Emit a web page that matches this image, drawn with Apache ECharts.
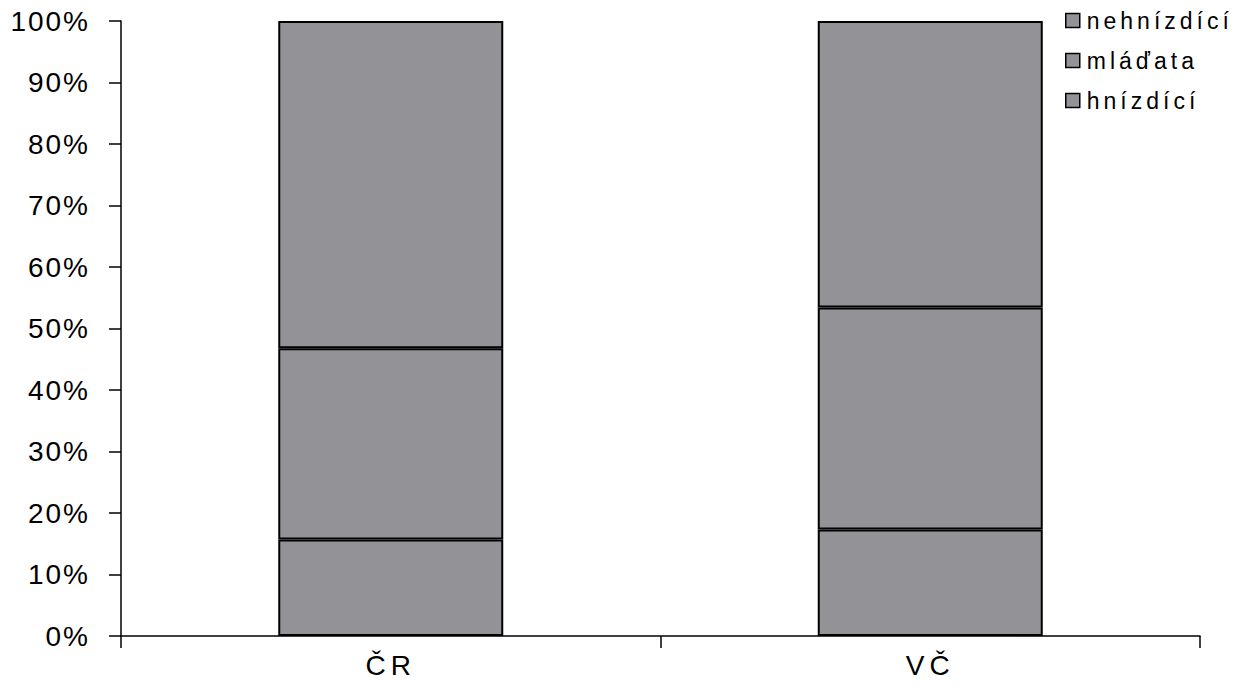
<!DOCTYPE html>
<html>
<head>
<meta charset="utf-8">
<script src="https://cdn.jsdelivr.net/npm/echarts@6/dist/echarts.min.js"></script>
<style>html,body{margin:0;padding:0;background:#fff}#c{width:1241px;height:693px}</style>
</head>
<body>
<div id="c"></div>
<script>
const categories = ['ČR', 'VČ'];
const hnizdici = [15.7, 17.3];
const mladata = [31.1, 36.1];
const nehnizdici = [53.2, 46.6];
const yTicks = [0, 10, 20, 30, 40, 50, 60, 70, 80, 90, 100];
const legendNames = ['nehnízdící', 'mláďata', 'hnízdící'];

const fill = '#939397';
const font = '"Liberation Sans", Arial, sans-serif';
const barStyle = { color: fill, borderColor: '#000', borderWidth: 2 };
function mk(name, data) {
  return { name: name, type: 'bar', stack: 's', data: data, barWidth: 225, itemStyle: barStyle, emphasis: { disabled: true } };
}
const chart = echarts.init(document.getElementById('c'), null, { renderer: 'svg' });
chart.setOption({
  animation: false,
  grid: { left: 121, right: 41, top: 21, bottom: 57, containLabel: false },
  legend: {
    data: legendNames,
    orient: 'vertical', left: 1060, top: 4,
    itemWidth: 14, itemHeight: 14, itemGap: 17,
    icon: 'rect',
    itemStyle: { color: fill, borderColor: '#000', borderWidth: 1.5 },
    textStyle: { fontFamily: font, fontSize: 23, color: '#000', padding: [0, 0, 0, 2] }
  },
  xAxis: {
    type: 'category', data: categories,
    axisLine: { lineStyle: { color: '#000', width: 1.5 } },
    axisTick: { show: true, length: 12, lineStyle: { color: '#000', width: 1.5 } },
    axisLabel: { fontFamily: font, fontSize: 28, color: '#000', margin: 15 }
  },
  yAxis: {
    type: 'value', min: yTicks[0], max: yTicks[yTicks.length - 1], interval: 10,
    splitLine: { show: false },
    axisLine: { show: true, lineStyle: { color: '#000', width: 1.5 } },
    axisTick: { show: true, length: 12, lineStyle: { color: '#000', width: 1.5 } },
    axisLabel: { fontFamily: font, fontSize: 28, color: '#000', margin: 31, formatter: '{value}%' }
  },
  series: [mk('hnízdící', hnizdici), mk('mláďata', mladata), mk('nehnízdící', nehnizdici)]
});
// widen letter spacing to match the reference typography
document.querySelectorAll('#c svg text').forEach(function (t) {
  const s = t.textContent;
  if (legendNames.indexOf(s) >= 0) t.setAttribute('letter-spacing', '4');
  else if (categories.indexOf(s) >= 0) t.setAttribute('letter-spacing', '5');
  else if (/%$/.test(s)) t.setAttribute('letter-spacing', '2');
});
</script>
</body>
</html>
